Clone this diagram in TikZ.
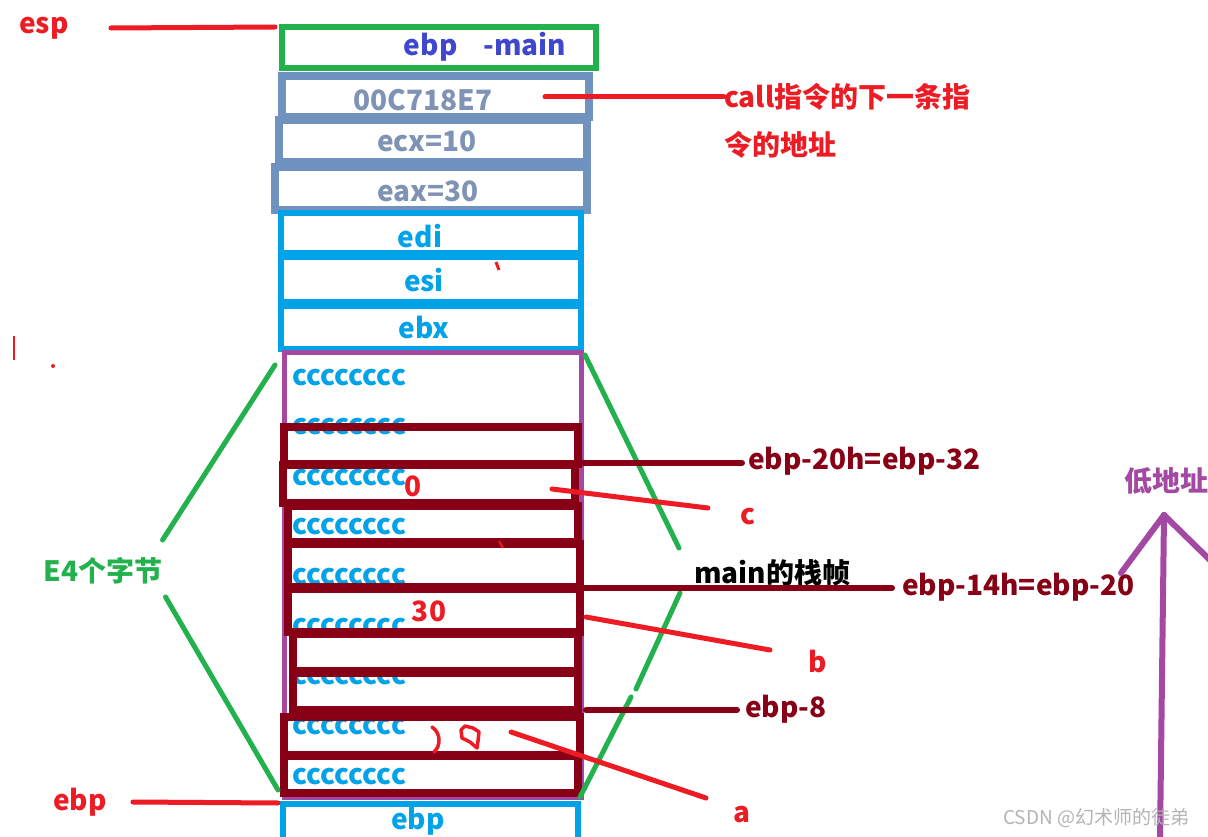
\documentclass[tikz,border=0pt]{standalone}
\usepackage{fontspec}
\setmainfont{Noto Sans CJK SC}
\usetikzlibrary{fit}
\definecolor{redc}{HTML}{ED1C24}
\definecolor{darkredc}{HTML}{880015}
\definecolor{greenc}{HTML}{22B14C}
\definecolor{cyanc}{HTML}{00A2E8}
\definecolor{steelc}{HTML}{7092BE}
\definecolor{steeltext}{HTML}{7F93B5}
\definecolor{purplec}{HTML}{A349A4}
\definecolor{bluec}{HTML}{3F48CC}
\definecolor{wmark}{HTML}{B4B4B4}
\begin{document}
\begin{tikzpicture}[x=1pt,y=-1pt,
  txt/.style={inner sep=0pt, font=\fontsize{28}{32}\selectfont\bfseries},
  bigtxt/.style={inner sep=0pt, font=\fontsize{28}{32}\selectfont\bfseries},
  cellbox/.style={draw=#1, inner sep=0pt, line width=6.5pt},
  redbox/.style={draw=darkredc, inner sep=0pt, line width=7.5pt},
  redline/.style={draw=redc, line width=5pt, line cap=round},
  darkline/.style={draw=darkredc, line width=6pt, line cap=round},
  greenline/.style={draw=greenc, line width=5pt, line cap=round},
  purpleline/.style={draw=purplec, line width=6pt, line cap=round},
  cc/.style={inner sep=0pt, anchor=west, text=cyanc, font=\fontsize{28}{32}\selectfont\bfseries}
]
\useasboundingbox (0,0) rectangle (1208,837);
\clip (0,0) rectangle (1208,837);
\fill[white] (0,0) rectangle (1208,837);

% ---- upper stack ----
\node[cellbox=greenc, fit={(282,27) (596,68)}] (bmain) {};
\node[cellbox=steelc, line width=7.5pt, fit={(282,76) (589,117)}] (baddr) {};
\node[cellbox=steelc, line width=7.5pt, fit={(279,120) (587,162)}] (becx) {};
\node[cellbox=steelc, line width=7.5pt, fit={(275,167) (587,210)}] (beax) {};
\node[cellbox=cyanc, fit={(281,213) (581,253)}] (bedi) {};
\node[cellbox=cyanc, fit={(281,257) (581,302)}] (besi) {};
\node[cellbox=cyanc, fit={(281,306) (581,349)}] (bebx) {};
\node[cellbox=cyanc, fit={(283,804) (578,860)}] (bebp) {};

\node[txt, text=bluec] (tmain) at (485,47) {ebp\hspace{26pt}-main};
\node[bigtxt, text=steeltext] (taddr) at (423,100) {00C718E7};
\node[bigtxt, text=steeltext] (tecx) at (427,141) {ecx=10};
\node[bigtxt, text=steeltext] (teax) at (428,191) {eax=30};
\node[bigtxt, text=cyanc] (tedi) at (420,236) {edi};
\node[bigtxt, text=cyanc] (tesi) at (424,280) {esi};
\node[bigtxt, text=cyanc] (tebx) at (424,328) {ebx};
\node[bigtxt, text=cyanc] (tebp) at (418,821) {ebp};

% ---- local variable area ----
\node[draw=purplec, line width=5pt, inner sep=0pt, fit={(284,352) (581,797)}] (frame) {};
\foreach \y [count=\i] in {378,427,478,527,577,627,677,727,777}
  \node[cc] (c\i) at (292,\y) {cccccccc};

\node[redbox, fit={(284,427) (578,464)}] (r1) {};
\node[redbox, fit={(283,465) (575,503)}] (r2) {};
\node[redbox, fit={(288,506) (578,542)}] (r3) {};
\node[redbox, fit={(288,544) (580,587)}] (r4) {};
\node[redbox, fit={(288,589) (580,632)}] (r5) {};
\node[redbox, fit={(293,634) (578,671)}] (r6) {};
\node[redbox, fit={(293,673) (578,710)}] (r7) {};
\node[redbox, fit={(284,717) (580,755)}] (r8) {};
\node[redbox, fit={(284,756) (578,793)}] (r9) {};

\node[txt, text=redc] (v0) at (413,486) {0};
\node[txt, text=redc] (v30) at (429,611) {30};
% handwritten 10
\draw[redc, line width=3.5pt, line cap=round] (432,727) .. controls (441,733) and (441,746) .. (434,752);
\draw[redc, line width=3.5pt, line cap=round, line join=round] (465,726) -- (473,728) -- (479,732) -- (478,741) -- (477,748) -- (470,742) -- (462,738) -- (461,730) -- cycle;

% ---- left labels ----
\node[txt, text=redc] (esp) at (44,28) {esp};
\node[txt, text=redc] (ebpl) at (80,802) {ebp};
\coordinate (espend) at (275,27);
\coordinate (ebpend) at (278,803);
\draw[redline] ([xshift=42pt]esp.east) -- (espend);
\draw[redline] ([xshift=26pt]ebpl.east) -- (ebpend);

\node[txt, text=greenc] (e4) at (103,571) {E4个字节};
\coordinate (gl1) at (275,365);
\coordinate (gl2) at (278,790);
\draw[greenline] ([shift={(0,-31)}]e4.east) -- (gl1);
\draw[greenline] ([shift={(3,26)}]e4.east) -- (gl2);

% ---- right labels ----
\node[bigtxt, text=redc, anchor=west] (call1) at (724,97) {call指令的下一条指};
\node[bigtxt, text=redc, anchor=west] (call2) at (724,145) {令的地址};
\coordinate (addrpt) at (545,97);
\draw[redline] (addrpt) -- (call1.west);

\node[txt, text=black, anchor=west] (mainf) at (694,573) {main的栈帧};
\coordinate (gr1) at (585,355);
\coordinate (gr2) at (580,797);
\draw[greenline] (gr1) -- ([shift={(-15,-25)}]mainf.west);
\draw[greenline] ([shift={(-14,20)}]mainf.west) -- (636,689);
\draw[greenline] (631,697) -- (gr2);

\node[txt, text=darkredc, anchor=west] (l32) at (748,461) {ebp-20h=ebp-32};
\node[txt, text=darkredc, anchor=west] (l20) at (902,587) {ebp-14h=ebp-20};
\node[txt, text=darkredc, anchor=west] (l8) at (745,709) {ebp-8};
\coordinate (p32) at (580,463);
\coordinate (p20) at (582,588);
\coordinate (p8) at (586,710);
\draw[darkline] (p32) -- ([xshift=-6pt]l32.west |- p32);
\draw[darkline] (p20) -- ([xshift=-10pt]l20.west |- p20);
\draw[darkline] (p8) -- ([xshift=-8pt]l8.west |- p8);

\node[txt, text=redc] (lc) at (748,517) {c};
\node[txt, text=redc] (lb) at (818,662) {b};
\node[txt, text=redc] (la) at (742,815) {a};
\coordinate (pc) at (552,489);
\coordinate (pb) at (586,617);
\coordinate (pa) at (511,732);
\draw[redline] (pc) -- ([shift={(-40,-9)}]lc.center);
\draw[redline] (pb) -- ([shift={(-48,-12)}]lb.center);
\draw[redline] (pa) -- ([shift={(-36,-17)}]la.center);

% ---- address arrow ----
\node[bigtxt, text=purplec, anchor=west] (low) at (1124,481) {低地址};
\coordinate (arrtip) at (1164,515);
\coordinate (arrbase) at (1160,840);
\draw[purpleline] (arrbase) -- (arrtip);
\draw[purpleline] (arrtip) -- (1121,573);
\draw[purpleline] (arrtip) -- (1212,562);

% ---- small stray marks ----
\draw[redc, line width=3pt] (496,262) -- (499,270);
\draw[redc, line width=2.5pt] (14,336) -- (14,360);
\fill[redc] (53,366) circle (2pt);
\draw[redc, line width=2pt] (499,541) -- (503,548);

% ---- watermark ----
\node[inner sep=0pt, anchor=west, text=wmark, font=\fontsize{19}{22}\selectfont] (wm) at (1003,818) {CSDN @幻术师的徒弟};
\end{tikzpicture}
\end{document}
